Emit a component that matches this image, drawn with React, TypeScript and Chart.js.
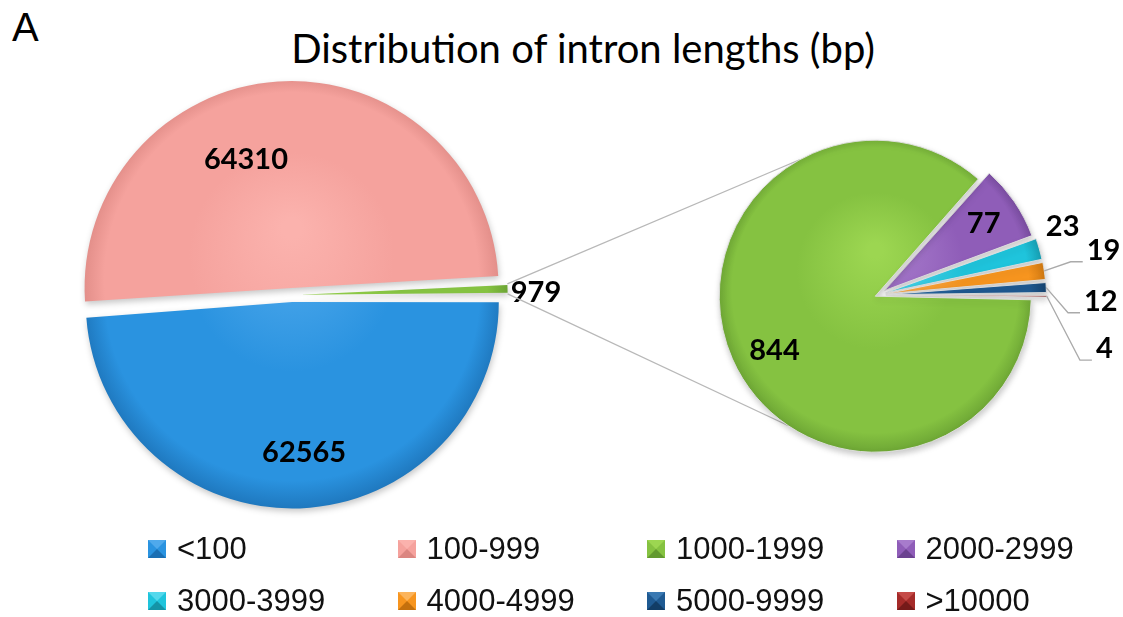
import React, { useEffect, useRef } from "react";
import { Chart, registerables } from "chart.js";

Chart.register(...registerables);

const PAGE_W = 1123;
const PAGE_H = 617;

// ---------------- data ----------------
const mainCategories = [">=1000", "<100", "100-999"];
const mainValues = [979, 62565, 64310];
const subCategories = ["2000-2999", "3000-3999", "4000-4999", "5000-9999", ">10000", "1000-1999"];
const subValues = [77, 23, 19, 12, 4, 844];
const legendLabels = ["<100", "100-999", "1000-1999", "2000-2999", "3000-3999", "4000-4999", "5000-9999", ">10000"];
const titleText = "Distribution of intron lengths (bp)";
const panelLetter = "A";

// ---------------- styles ----------------
// [light, base, dark]
const palette: Record<string, [string, string, string]> = {
  "<100": ["#4FA9EC", "#2A93E0", "#1B6FB3"],
  "100-999": ["#FBB2AD", "#F5A29D", "#DB8681"],
  "1000-1999": ["#9CD651", "#85C241", "#62992F"],
  "2000-2999": ["#A77BCC", "#8F5DB8", "#6B4290"],
  "3000-3999": ["#55D8EC", "#1FC4DC", "#1493A6"],
  "4000-4999": ["#FBB45C", "#F7951F", "#C4700D"],
  "5000-9999": ["#3A79B2", "#1F5A92", "#123D66"],
  ">10000": ["#C54B48", "#A52B29", "#751A19"],
};
const mainColorKeys = ["1000-1999", "<100", "100-999"];
const subColorKeys = ["2000-2999", "3000-3999", "4000-4999", "5000-9999", ">10000", "1000-1999"];

const mainCenter = { x: 292, y: 295, r: 200, rotation: 87 };
const subCenter = { x: 878, y: 295, r: 153, rotation: 41.5 };
const mainOffsets = [32, 28, 28];
const subOffsets = [32, 32, 32, 32, 32, 12];

// label placement: angle in degrees clockwise from top, distance as a fraction of radius
const mainLabelPlacement = [
  { angle: 89.5, dist: 1.18, leader: false },
  { angle: 175.5, dist: 0.755, leader: false },
  { angle: 340.4, dist: 0.68, leader: false },
];
const subLabelPlacement = [
  { angle: 56.1, dist: 0.78, leader: false },
  { angle: 69.5, dist: 1.235, leader: false },
  { angle: 78.8, dist: 1.45, leader: true },
  { angle: 91.9, dist: 1.405, leader: true },
  { angle: 103.9, dist: 1.47, leader: true },
  { angle: 241.4, dist: 0.75, leader: false },
];
const connectorAngles = [331, 214];
const labelFont = "bold 29px Lato, 'Open Sans', sans-serif";

const toRad = (deg: number) => ((deg - 90) * Math.PI) / 180;

function arcGeom(arc: any) {
  const p = arc.getProps(["x", "y", "startAngle", "endAngle", "outerRadius"], true);
  const off = (arc.options.offset || 0) / 4;
  const mid = (p.startAngle + p.endAngle) / 2;
  const circ = p.endAngle - p.startAngle;
  const fix = 1 - Math.sin(Math.min(Math.PI, circ));
  return {
    cx: p.x + Math.cos(mid) * off,
    cy: p.y + Math.sin(mid) * off,
    r: p.outerRadius + off * fix,
    start: p.startAngle,
    end: p.endAngle,
    mid,
  };
}

function padFor(cx: number, cy: number, half: number) {
  return { left: cx - half, top: cy - half, right: PAGE_W - (cx + half), bottom: PAGE_H - (cy + half) };
}

function makeFill(keys: string[], R: number) {
  return (c: any) => {
    const [light, base, dark] = palette[keys[c.dataIndex]];
    const area = c.chart.chartArea;
    if (!area) return base;
    const cx = (area.left + area.right) / 2;
    const cy = (area.top + area.bottom) / 2;
    const g = c.chart.ctx.createRadialGradient(cx, cy - R * 0.3, R * 0.05, cx, cy, R * 1.08);
    g.addColorStop(0, light);
    g.addColorStop(0.45, base);
    g.addColorStop(0.86, base);
    g.addColorStop(1, dark);
    return g;
  };
}

function makeDecor(placements: any[], R: number, before?: (chart: any) => void) {
  return {
    id: "pieDecor",
    beforeDatasetsDraw(chart: any) {
      if (before) before(chart);
      const ctx = chart.ctx;
      ctx.save();
      ctx.shadowColor = "rgba(0,0,0,0.22)";
      ctx.shadowBlur = 6;
      ctx.shadowOffsetX = 1;
      ctx.shadowOffsetY = 3;
    },
    afterDatasetsDraw(chart: any) {
      const ctx = chart.ctx;
      ctx.restore();
      const meta = chart.getDatasetMeta(0);
      const values = chart.data.datasets[0].data;
      meta.data.forEach((arc: any, i: number) => {
        const pl = placements[i];
        const g = arcGeom(arc);
        const a = toRad(pl.angle);
        const lx = g.cx + Math.cos(a) * pl.dist * R;
        const ly = g.cy + Math.sin(a) * pl.dist * R;
        const text = String(values[i]);
        ctx.save();
        ctx.font = labelFont;
        ctx.fillStyle = "#000";
        ctx.textAlign = "center";
        ctx.textBaseline = "middle";
        ctx.fillText(text, lx, ly);
        if (pl.leader) {
          const w = ctx.measureText(text).width;
          const sx = g.cx + Math.cos(g.mid) * g.r;
          const sy = g.cy + Math.sin(g.mid) * g.r;
          const ex = lx - w / 2 - 4;
          const ey = ly + 11;
          ctx.strokeStyle = "#aaaaaa";
          ctx.lineWidth = 1.3;
          ctx.beginPath();
          ctx.moveTo(sx, sy);
          ctx.lineTo(ex - 12, ey);
          ctx.lineTo(ex, ey);
          ctx.stroke();
        }
        ctx.restore();
      });
    },
  };
}

export default function App() {
  const leftRef = useRef<HTMLCanvasElement>(null);
  const rightRef = useRef<HTMLCanvasElement>(null);

  useEffect(() => {
    const left = new Chart(leftRef.current as HTMLCanvasElement, {
      type: "pie",
      data: {
        labels: mainCategories,
        datasets: [
          {
            data: mainValues,
            backgroundColor: makeFill(mainColorKeys, mainCenter.r) as any,
            borderWidth: 0,
            offset: mainOffsets,
          },
        ],
      },
      options: {
        responsive: false,
        animation: false,
        events: [],
        rotation: mainCenter.rotation,
        radius: mainCenter.r,
        layout: { padding: padFor(mainCenter.x, mainCenter.y, 240) },
        plugins: { legend: { display: false }, tooltip: { enabled: false } },
      } as any,
      plugins: [makeDecor(mainLabelPlacement, mainCenter.r)],
    });

    const drawConnectors = (chart: any) => {
      const ctx = chart.ctx;
      const src = arcGeom(left.getDatasetMeta(0).data[0]);
      const green = arcGeom(chart.getDatasetMeta(0).data[subValues.length - 1]);
      const pts = [src.start, src.end].map((ang, i) => {
        const b = toRad(connectorAngles[i]);
        return [
          src.cx + Math.cos(ang) * src.r,
          src.cy + Math.sin(ang) * src.r,
          green.cx + Math.cos(b) * green.r,
          green.cy + Math.sin(b) * green.r,
        ];
      });
      ctx.save();
      ctx.strokeStyle = "#b8b8b8";
      ctx.lineWidth = 1.3;
      pts.forEach(([x1, y1, x2, y2]) => {
        ctx.beginPath();
        ctx.moveTo(x1, y1);
        ctx.lineTo(x2, y2);
        ctx.stroke();
      });
      ctx.restore();
    };

    const right = new Chart(rightRef.current as HTMLCanvasElement, {
      type: "pie",
      data: {
        labels: subCategories,
        datasets: [
          {
            data: subValues,
            backgroundColor: makeFill(subColorKeys, subCenter.r) as any,
            borderWidth: 1,
            borderColor: "rgba(225,225,225,0.9)",
            offset: subOffsets,
          },
        ],
      },
      options: {
        responsive: false,
        animation: false,
        events: [],
        rotation: subCenter.rotation,
        radius: subCenter.r,
        layout: { padding: padFor(subCenter.x, subCenter.y, 200) },
        plugins: { legend: { display: false }, tooltip: { enabled: false } },
      } as any,
      plugins: [makeDecor(subLabelPlacement, subCenter.r, drawConnectors)],
    });

    return () => {
      right.destroy();
      left.destroy();
    };
  }, []);

  const canvasStyle: React.CSSProperties = {
    position: "absolute",
    left: 0,
    top: 0,
    width: PAGE_W,
    height: PAGE_H,
  };

  return (
    <div
      style={{
        position: "absolute",
        left: 0,
        top: 0,
        width: PAGE_W,
        height: PAGE_H,
        background: "#fff",
        overflow: "hidden",
      }}
    >
      <div
        style={{
          position: "absolute",
          left: 12,
          top: 7,
          font: "40px 'Liberation Sans', Arial, sans-serif",
          lineHeight: "40px",
          color: "#000",
        }}
      >
        {panelLetter}
      </div>
      <div
        style={{
          position: "absolute",
          left: 183,
          width: 800,
          top: 28,
          textAlign: "center",
          font: "40px Lato, 'Open Sans', sans-serif",
          lineHeight: "40px",
          color: "#000",
          whiteSpace: "nowrap",
        }}
      >
        {titleText}
      </div>
      <canvas ref={leftRef} width={PAGE_W} height={PAGE_H} style={canvasStyle} />
      <canvas ref={rightRef} width={PAGE_W} height={PAGE_H} style={canvasStyle} />
      {legendLabels.map((lab, i) => {
        const col = i % 4;
        const row = Math.floor(i / 4);
        const [light, base, dark] = palette[lab];
        return (
          <div
            key={lab}
            style={{
              position: "absolute",
              left: 148 + col * 249.5,
              top: 533 + row * 52,
              height: 31,
              display: "flex",
              alignItems: "center",
              font: "31px 'Liberation Sans', Arial, sans-serif",
              lineHeight: "31px",
              color: "#111",
              whiteSpace: "nowrap",
            }}
          >
            <span
              style={{
                display: "inline-block",
                width: 0,
                height: 0,
                borderStyle: "solid",
                borderWidth: 9,
                borderColor: `${light} ${base} ${dark} ${base}`,
                marginRight: 11,
              }}
            />
            {lab}
          </div>
        );
      })}
    </div>
  );
}
